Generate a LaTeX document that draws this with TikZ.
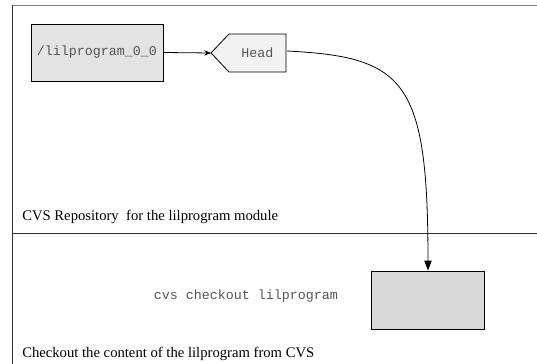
\documentclass[tikz,border=0pt]{standalone}
\usepackage{fontspec}
\setmainfont{Liberation Serif}
\setmonofont{Liberation Mono}
\usetikzlibrary{arrows.meta}
\definecolor{framegray}{HTML}{7F7F7F}
\definecolor{boxgray}{HTML}{E3E3E3}
\definecolor{headgray}{HTML}{F2F2F2}
\definecolor{wsgray}{HTML}{D9D9D9}
\definecolor{codegray}{HTML}{555555}
\tikzset{
  frameline/.style={line width=0.7pt},
  tagbox/.style={draw, line width=0.6pt, fill=boxgray, minimum width=132*0.75pt, minimum height=57*0.75pt, inner sep=0pt},
  headlabel/.style={inner sep=0pt, minimum width=57*0.75pt, minimum height=38*0.75pt},
  workbox/.style={draw, line width=0.6pt, fill=wsgray, minimum width=113*0.75pt, minimum height=58*0.75pt, inner sep=0pt},
  code/.style={font=\ttfamily\fontsize{10}{12}\selectfont, text=codegray},
  caption/.style={font=\fontsize{11}{13}\selectfont, anchor=base west, inner sep=0pt},
  link/.style={line width=0.6pt, -{Stealth[length=7.5pt, width=5.5pt, inset=0pt]}},
}
\begin{document}
\begin{tikzpicture}[x=0.75pt, y=-0.75pt]
\useasboundingbox (0,0) rectangle (537,364);

% panel frame: top edge, left edge, divider
\draw[framegray, frameline] (12,5) -- (537,5);
\draw[black!80, frameline] (12,5) -- (12,364);
\draw[black!80, frameline] (12,233) -- (537,233);

% repository contents
\node[tagbox, code] (tag) at (97,52.5) {/lilprogram\_0\_0};
\draw[line width=0.6pt, fill=headgray] (211,53) -- (229,34) -- (286,34) -- (286,72) -- (229,72) -- cycle;
\coordinate (headtip) at (211,53);
\coordinate (headend) at (287,51);
\node[headlabel, code] (head) at (257.5,53) {Head};

% working copy
\node[workbox] (work) at (428,300) {};
\node[code] (cmd) at (246,296) {cvs checkout lilprogram};

% captions
\node[caption] (repo) at (22,220) {CVS Repository\ \ for the lilprogram module};
\node[caption] (co) at (22,358) {Checkout the content of the lilprogram from CVS};

% connectors
\draw[line width=0.6pt, -{Stealth[length=5pt, width=4pt]}] (tag.east) -- (headtip);
\draw[link] (headend) .. controls (405,57) and (428,80) .. (work.north);
\end{tikzpicture}
\end{document}
